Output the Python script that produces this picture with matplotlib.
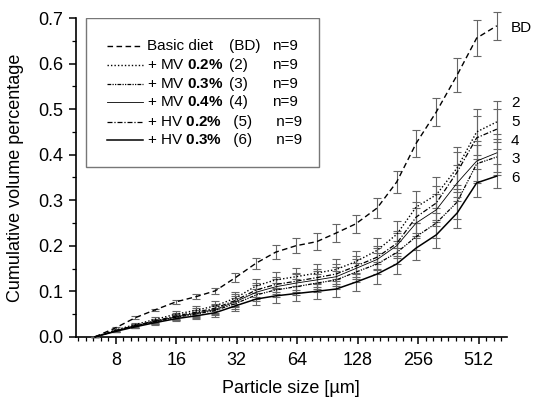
import numpy as np
import matplotlib
matplotlib.use('Agg')
import matplotlib.pyplot as plt
from matplotlib.ticker import FixedLocator, NullFormatter, MultipleLocator
from matplotlib.patches import Rectangle
from matplotlib.lines import Line2D

plt.rcParams['font.family'] = ['Liberation Sans', 'DejaVu Sans']
plt.rcParams['mathtext.fontset'] = 'custom'
plt.rcParams['mathtext.rm'] = 'Liberation Sans'
plt.rcParams['mathtext.bf'] = 'Liberation Sans:bold'

# particle size classes [um]
sizes = [6.3, 8, 10, 12.5, 16, 20, 25, 31.5, 40, 50, 63, 80, 100, 125, 160,
         200, 250, 315, 400, 500, 630]

bd = [0, 0.020, 0.042, 0.059, 0.077, 0.088, 0.101, 0.130, 0.162, 0.186, 0.200,
      0.209, 0.228, 0.248, 0.283, 0.340, 0.425, 0.494, 0.575, 0.656, 0.683]
bd_err = [0, 0.002, 0.003, 0.003, 0.004, 0.005, 0.006, 0.010, 0.012, 0.015, 0.017,
          0.018, 0.019, 0.020, 0.021, 0.024, 0.030, 0.031, 0.038, 0.040, 0.031]

mv02 = [0, 0.015, 0.027, 0.038, 0.050, 0.058, 0.068, 0.085, 0.112, 0.125, 0.132,
        0.140, 0.148, 0.165, 0.190, 0.225, 0.285, 0.312, 0.371, 0.450, 0.472]
mv03 = [0, 0.013, 0.024, 0.033, 0.043, 0.050, 0.058, 0.073, 0.092, 0.103, 0.110,
        0.118, 0.125, 0.142, 0.160, 0.185, 0.220, 0.250, 0.296, 0.380, 0.395]
mv04 = [0, 0.013, 0.024, 0.034, 0.044, 0.052, 0.060, 0.077, 0.098, 0.110, 0.118,
        0.125, 0.132, 0.150, 0.170, 0.200, 0.250, 0.279, 0.338, 0.386, 0.404]
hv02 = [0, 0.014, 0.025, 0.035, 0.046, 0.054, 0.063, 0.080, 0.103, 0.115, 0.122,
        0.130, 0.138, 0.155, 0.175, 0.205, 0.263, 0.294, 0.362, 0.437, 0.456]
hv03 = [0, 0.012, 0.022, 0.031, 0.040, 0.046, 0.053, 0.068, 0.083, 0.090, 0.095,
        0.100, 0.105, 0.120, 0.138, 0.160, 0.195, 0.224, 0.272, 0.338, 0.353]

mv02_err = [0, 0.003, 0.004, 0.005, 0.007, 0.009, 0.011, 0.013, 0.016, 0.018, 0.020,
            0.021, 0.022, 0.024, 0.026, 0.030, 0.036, 0.040, 0.046, 0.050, 0.045]
mv03_err = [0, 0.003, 0.004, 0.005, 0.006, 0.008, 0.010, 0.012, 0.014, 0.016, 0.018,
            0.019, 0.020, 0.021, 0.023, 0.026, 0.030, 0.033, 0.038, 0.042, 0.040]
mv04_err = [0, 0.003, 0.004, 0.005, 0.006, 0.008, 0.010, 0.012, 0.015, 0.017, 0.019,
            0.020, 0.021, 0.022, 0.024, 0.027, 0.032, 0.035, 0.040, 0.044, 0.042]
hv02_err = [0, 0.003, 0.004, 0.005, 0.007, 0.009, 0.010, 0.013, 0.015, 0.017, 0.019,
            0.020, 0.021, 0.023, 0.025, 0.028, 0.034, 0.037, 0.043, 0.047, 0.044]
hv03_err = [0, 0.002, 0.003, 0.004, 0.006, 0.007, 0.009, 0.011, 0.013, 0.015, 0.016,
            0.017, 0.018, 0.019, 0.021, 0.023, 0.026, 0.028, 0.034, 0.031, 0.026]

series = [
    (bd, bd_err, (0, (4, 2.5)), 1.0),
    (mv02, mv02_err, (0, (1, 1.5)), 1.0),
    (mv03, mv03_err, (0, (3, 1, 1, 1, 1, 1)), 0.9),
    (mv04, mv04_err, '-', 0.6),
    (hv02, hv02_err, (0, (4, 1.5, 1, 1.5)), 0.9),
    (hv03, hv03_err, '-', 1.1),
]

legend_rows = [
    ('Basic diet', '(BD)', 'n=9'),
    (r'+ MV $\mathbf{0.2\%}$', '(2)', 'n=9'),
    (r'+ MV $\mathbf{0.3\%}$', '(3)', 'n=9'),
    (r'+ MV $\mathbf{0.4\%}$', '(4)', 'n=9'),
    (r'+ HV $\mathbf{0.2\%}$', ' (5)', ' n=9'),
    (r'+ HV $\mathbf{0.3\%}$', ' (6)', ' n=9'),
]

end_labels = ['BD', '2', '5', '4', '3', '6']
end_label_y = [0.678, 0.513, 0.472, 0.430, 0.391, 0.349]

fig = plt.figure(figsize=(5.34, 4.01), dpi=100)
ax = fig.add_axes([0.142, 0.16, 0.807, 0.795])

for vals, errs, ls, lw in series:
    ax.errorbar(sizes, vals, yerr=errs, color='black', ls=ls, lw=lw,
                ecolor='#666666', elinewidth=0.8, capsize=2.6, capthick=0.8,
                clip_on=False, zorder=3)

ax.set_xscale('log', base=2)
ax.set_xlim(5.06, 706)
ax.set_ylim(0, 0.7)
ax.xaxis.set_major_locator(FixedLocator([8, 16, 32, 64, 128, 256, 512]))
ax.set_xticklabels(['8', '16', '32', '64', '128', '256', '512'])
ax.xaxis.set_minor_locator(FixedLocator([2 ** (k / 8) for k in range(16, 80)]))
ax.xaxis.set_minor_formatter(NullFormatter())
ax.yaxis.set_major_locator(MultipleLocator(0.1))
ax.yaxis.set_minor_locator(MultipleLocator(0.05))
ax.yaxis.set_major_formatter(plt.FuncFormatter(lambda v, p: f'{v:.1f}'))

for s in ['top', 'right']:
    ax.spines[s].set_visible(False)
for s in ['left', 'bottom']:
    ax.spines[s].set_linewidth(1.2)

ax.tick_params(which='major', direction='out', length=5, width=1.1, labelsize=13, pad=4)
ax.tick_params(axis='x', which='major', pad=6)
ax.tick_params(which='minor', direction='out', length=3, width=0.9)

ax.set_xlabel('Particle size [µm]', fontsize=13)
ax.set_ylabel('Cumulative volume percentage', fontsize=13)
ax.xaxis.set_label_coords(0.5, -0.135)
ax.yaxis.set_label_coords(-0.12, 0.5)

# legend drawn by hand
ax.add_patch(Rectangle((0.023, 0.533), 0.541, 0.467, transform=ax.transAxes,
                       facecolor='white', edgecolor='#777777', lw=1.0, zorder=4))
row_y = [0.912, 0.853, 0.793, 0.737, 0.674, 0.618]
for (vals, errs, ls, lw), (name, num, n), y in zip(series, legend_rows, row_y):
    ax.add_line(Line2D([0.072, 0.155], [y, y], transform=ax.transAxes,
                       color='black', ls=ls, lw=lw, zorder=5))
    ax.text(0.165, y, name, transform=ax.transAxes, fontsize=11,
            va='center', ha='left', zorder=5)
    ax.text(0.355, y, num, transform=ax.transAxes, fontsize=11,
            va='center', ha='left', zorder=5)
    ax.text(0.455, y, n, transform=ax.transAxes, fontsize=11,
            va='center', ha='left', zorder=5)

for lab, y in zip(end_labels, end_label_y):
    ax.text(1.01, y, lab, transform=ax.get_yaxis_transform(), fontsize=11,
            va='center', ha='left')

fig.savefig('out.png', dpi=100)
